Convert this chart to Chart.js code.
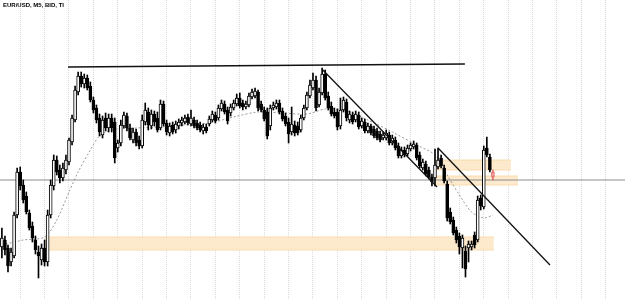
<!DOCTYPE html>
<html>
<head>
<meta charset="utf-8">
<script src="https://cdn.jsdelivr.net/npm/chart.js@4.4.1/dist/chart.umd.min.js"></script>
<style>
  html, body { margin: 0; padding: 0; background: #fff; }
  #wrap { position: relative; width: 625px; height: 300px; }
  #title { position: absolute; left: 3px; top: 2px; font: bold 6px "Liberation Sans Narrow", "Liberation Sans", sans-serif; color: #000; white-space: nowrap; }
</style>
</head>
<body>
<div id="wrap">
  <canvas id="chart"></canvas>
  <div id="title">EUR/USD, M5, BID, TI</div>
</div>
<script>
// -------- Data (price in points, bar index = time) --------
const open = [53,60,52,38,44,85,128,115,104,87, 74,60,48,40,52,38,85,114,140,130,
  122,130,138,158,180,208,224,216,222,214, 200,192,182,165,182,172,182,178,152,157,
  174,184,172,160,168,160,154,178,188,174, 186,182,172,196,177,167,175,170,174,177,
  178,183,176,180,177,175,169,173,176,180, 185,182,191,196,190,187,192,196,202,197,
  193,195,203,204,208,196,190,188,174,192, 193,197,189,184,178,168,175,174,170,182,
  192,204,212,220,195,207,226,204,194,188, 188,174,190,198,180,185,180,185,174,178,
  169,174,171,169,166,162,162,165,157,160, 154,144,150,146,151,153,155,145,132,136,
  130,123,122,133,142,132,116,88,80,70, 64,52,49,52,53,65,60,102,93,152, 143,128];
const high = [72,64,55,52,88,132,133,120,108,90, 78,64,54,56,60,90,120,145,144,135,
  137,145,162,185,214,228,228,226,225,218, 203,195,186,184,187,186,186,182,160,180,
  188,187,176,172,171,164,185,197,192,190, 189,188,200,199,180,177,178,179,181,183,
  185,186,190,183,180,178,176,176,184,189, 188,195,200,199,193,196,200,206,207,200,
  199,207,211,212,210,199,193,192,195,198, 200,200,192,187,182,193,179,178,185,195,
  208,220,227,224,212,232,230,208,198,192, 191,202,203,201,189,188,189,188,182,181,
  177,176,174,172,169,168,170,168,165,163, 157,153,153,155,157,159,157,148,141,139,
  133,126,151,152,145,135,119,92,83,73, 67,65,54,59,59,68,104,105,154,163, 146,130];
const low = [42,45,28,34,42,82,110,97,86,70, 58,46,22,35,34,34,82,110,125,117,
  119,126,135,155,178,205,213,212,210,198, 187,177,164,162,169,168,168,137,148,154,
  172,169,160,157,154,151,152,175,170,171, 174,168,170,174,165,164,166,167,171,174,
  176,175,174,172,170,168,166,167,174,178, 177,180,189,186,176,184,190,194,192,190,
  191,193,201,202,189,188,179,161,170,190, 191,186,179,174,157,165,164,165,168,180,
  190,202,210,189,193,205,200,190,184,182, 170,171,188,179,177,176,178,171,172,167,
  167,165,162,160,158,160,160,155,155,150, 142,142,143,144,149,151,140,132,130,124,
  121,114,114,131,132,117,79,76,65,57, 46,32,23,38,50,52,58,90,91,143, 128,120];
const close = [62,50,34,48,85,128,114,100,88,72, 62,50,44,52,38,85,115,140,128,122,
  132,140,160,182,210,224,216,222,212,200, 190,180,168,180,172,182,172,142,157,175,
  185,172,162,168,157,154,180,190,175,186, 178,170,196,176,168,174,168,176,178,180,
  182,177,182,174,172,170,173,169,181,186, 179,192,197,188,179,193,197,202,194,193,
  196,204,208,209,192,190,181,164,192,195, 197,188,181,176,166,176,167,167,182,192,
  205,215,220,192,208,226,202,192,186,184, 173,190,200,182,186,178,186,173,179,169,
  174,167,164,162,160,165,167,157,162,152, 144,150,145,152,155,156,142,134,138,126,
  123,118,135,140,134,119,82,78,67,60, 53,62,31,56,56,55,100,94,150,145, 130,123];

// moving average, read at a few bars
const maBar = [0,7,14,18,22,25,29,32,36,44,52,60,68,76,84,92,100,106,112,120,128,136,142,146,150,154,158,161];
const maVal = [55,60,63,80,108,128,150,164,170,172,173,175,177,183,188,187,186,191,190,180,168,155,145,125,105,88,82,85];

// support / resistance zones
const zoneFrom = [14.1, 142.3, 142.3];
const zoneTo = [161.3, 166.9, 169.2];
const zoneLow = [50, 130, 115];
const zoneHigh = [63, 140, 124];

// drawn lines: [bar, price] end points
const levelLine = [[21.7, 233], [151.8, 236]];
const trend1 = [[104.9, 231], [142.7, 113]];
const trend2 = [[143, 152], [179.7, 35]];
const priceLine = 120;

const X_MIN = -0.62, X_MAX = 204.3;

// -------- Build datasets --------
const idx = open.map((_, i) => i);
const lastBar = open.length - 1;
const isUp = idx.map(i => close[i] >= open[i]);
const edge = idx.map(i => i === lastBar ? '#e46a6a' : '#000');
const fillCol = idx.map(i => i === lastBar ? '#f0a0a0' : (isUp[i] ? '#fff' : '#000'));

const seg = (pts, color, width, order) => ({
  type: 'line',
  data: pts.map(p => ({ x: p[0], y: p[1] })),
  borderColor: color, borderWidth: width, pointRadius: 0, fill: false, order
});

const datasets = [];
zoneFrom.forEach((x0, k) => {
  datasets.push({
    type: 'line', data: [{ x: x0, y: zoneHigh[k] }, { x: zoneTo[k], y: zoneHigh[k] }],
    borderColor: '#f7dcb0', borderWidth: 1, pointRadius: 0, fill: false, order: 20
  });
  datasets.push({
    type: 'line', data: [{ x: x0, y: zoneLow[k] }, { x: zoneTo[k], y: zoneLow[k] }],
    borderColor: '#f7dcb0', borderWidth: 1, pointRadius: 0,
    fill: '-1', backgroundColor: '#fde9cb', order: 20
  });
});
datasets.push(seg([[X_MIN, priceLine], [X_MAX, priceLine]], '#8c8c8c', 1, 15));
datasets.push({
  type: 'line', data: maBar.map((b, k) => ({ x: b, y: maVal[k] })),
  borderColor: '#9a9a9a', borderWidth: 1, borderDash: [2, 2], pointRadius: 0,
  fill: false, tension: 0.3, order: 14
});
datasets.push({
  type: 'bar', data: idx.map(i => ({ x: i, y: [low[i], high[i]] })),
  grouped: false, barThickness: 1, backgroundColor: edge, borderWidth: 0, order: 6
});
datasets.push({
  type: 'bar', data: idx.map(i => ({ x: i, y: [open[i], close[i]] })),
  grouped: false, barThickness: 3, backgroundColor: fillCol, borderColor: edge,
  borderWidth: 1, borderSkipped: false, minBarLength: 1, order: 5
});
datasets.push(seg(levelLine, '#111', 1.3, 1));
datasets.push(seg(trend1, '#111', 1.3, 1));
datasets.push(seg(trend2, '#111', 1.3, 1));

// vertical grid every 8 bars
const gridBars = [];
for (let b = 6; b < X_MAX; b += 8) gridBars.push(b);

new Chart(document.getElementById('chart'), {
  type: 'bar',
  data: { datasets },
  options: {
    responsive: true,
    maintainAspectRatio: false,
    animation: false,
    layout: { padding: 0 },
    plugins: { legend: { display: false }, tooltip: { enabled: false } },
    scales: {
      x: {
        type: 'linear', min: X_MIN, max: X_MAX, offset: false,
        afterBuildTicks: axis => { axis.ticks = gridBars.map(v => ({ value: v })); },
        ticks: { display: false },
        grid: { color: '#dadada', drawTicks: false, offset: false },
        border: { display: false, dash: [1, 1] }
      },
      y: { type: 'linear', min: 0, max: 300, display: false }
    }
  }
});
</script>
</body>
</html>
